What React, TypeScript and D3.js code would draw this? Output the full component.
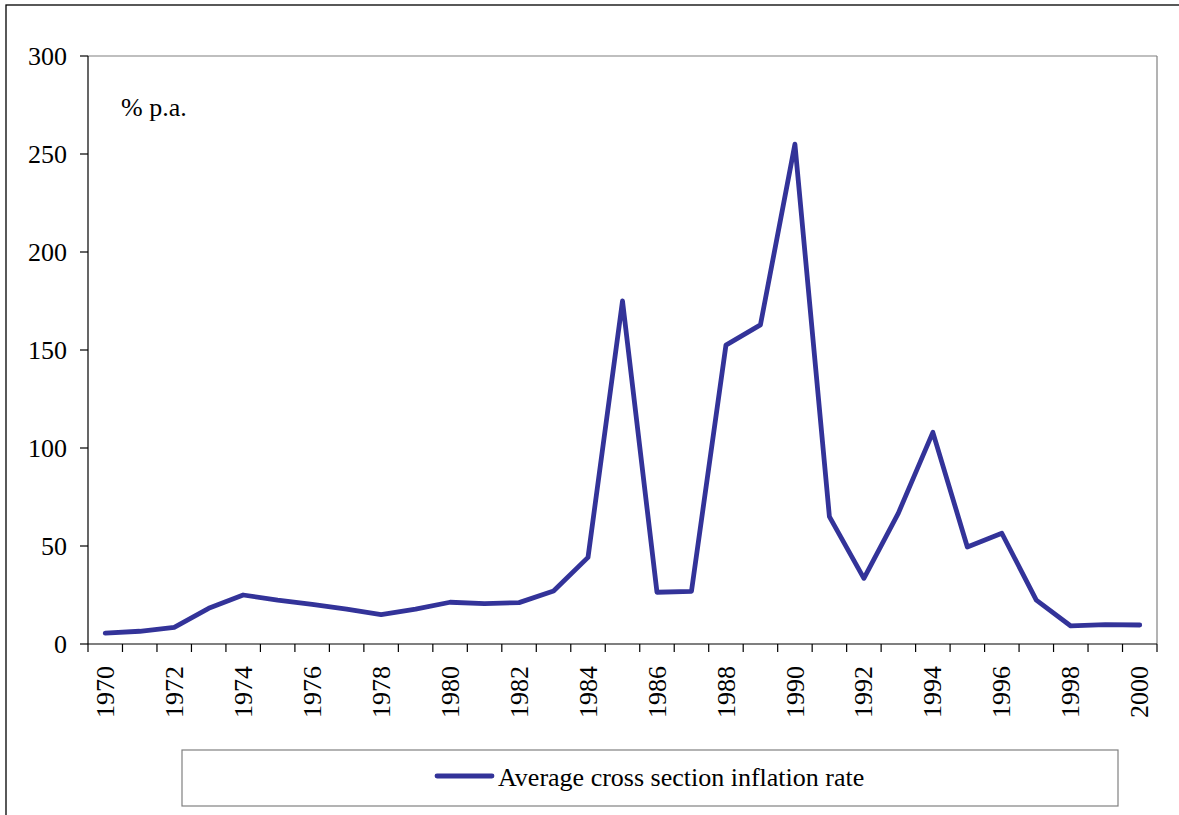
import React from "react";
import * as d3 from "d3";

// Average cross-section inflation rate, % per annum
const years: number[] = [
  1970, 1971, 1972, 1973, 1974, 1975, 1976, 1977, 1978, 1979,
  1980, 1981, 1982, 1983, 1984, 1985, 1986, 1987, 1988, 1989,
  1990, 1991, 1992, 1993, 1994, 1995, 1996, 1997, 1998, 1999, 2000,
];
const inflation: number[] = [
  5.5, 6.5, 8.5, 18.2, 25, 22.4, 20.2, 17.8, 15, 17.8,
  21.3, 20.6, 21.1, 27, 44.2, 175, 26.4, 26.9, 152.5, 162.8,
  255, 65, 33.5, 66.8, 108, 49.5, 56.5, 22.4, 9.2, 9.9, 9.7,
];
const yTicks: number[] = [0, 50, 100, 150, 200, 250, 300];
const xLabels: number[] = years.filter((y) => y % 2 === 0);
const seriesName = "Average cross section inflation rate";
const unitLabel = "% p.a.";

const W = 1179;
const H = 815;
const plot = { left: 88, right: 1157, top: 56, bottom: 644 };
const FONT = "'Liberation Serif', 'Times New Roman', serif";
const FS = 26;
const LINE_COLOR = "#333399";

export default function App() {
  const x = d3
    .scaleBand<number>()
    .domain(years)
    .range([plot.left, plot.right])
    .padding(0);
  const y = d3.scaleLinear().domain([0, 300]).range([plot.bottom, plot.top]);
  const cx = (yr: number) => (x(yr) ?? 0) + x.bandwidth() / 2;

  const line = d3
    .line<number>()
    .x((_, i) => cx(years[i]))
    .y((v) => y(v));

  const boundaries = years.map((yr) => x(yr) ?? 0).concat([plot.right]);

  return (
    <svg
      width={W}
      height={H}
      style={{ position: "absolute", left: 0, top: 0, display: "block", background: "#fff" }}
      fontFamily={FONT}
    >
      {/* outer chart frame */}
      <rect x={6} y={5} width={W + 20} height={H + 20} fill="#fff" stroke="#000" strokeWidth={1.3} />

      {/* plot area: grey top/right border */}
      <line x1={plot.left} y1={plot.top} x2={plot.right} y2={plot.top} stroke="#808080" strokeWidth={1.2} />
      <line x1={plot.right} y1={plot.top} x2={plot.right} y2={plot.bottom} stroke="#808080" strokeWidth={1.2} />

      {/* y axis */}
      <line x1={plot.left} y1={plot.top} x2={plot.left} y2={plot.bottom} stroke="#000" strokeWidth={1.2} />
      {yTicks.map((t) => (
        <g key={`y${t}`}>
          <line x1={plot.left - 8} x2={plot.left} y1={y(t)} y2={y(t)} stroke="#000" strokeWidth={1.2} />
          <text x={67} y={y(t)} dy="0.34em" textAnchor="end" fontSize={FS} fill="#000">
            {t}
          </text>
        </g>
      ))}

      {/* x axis */}
      <line x1={plot.left} y1={plot.bottom} x2={plot.right} y2={plot.bottom} stroke="#000" strokeWidth={1.2} />
      {boundaries.map((bx, i) => (
        <line key={`xt${i}`} x1={bx} x2={bx} y1={plot.bottom} y2={plot.bottom + 8} stroke="#000" strokeWidth={1.2} />
      ))}
      {xLabels.map((yr) => (
        <text
          key={`xl${yr}`}
          transform={`translate(${cx(yr)},${plot.bottom + 22}) rotate(-90)`}
          dy="0.33em"
          textAnchor="end"
          fontSize={FS}
          fill="#000"
        >
          {yr}
        </text>
      ))}

      {/* unit label */}
      <text x={121} y={116} fontSize={FS} fill="#000">
        {unitLabel}
      </text>

      {/* series */}
      <path
        d={line(inflation) ?? ""}
        fill="none"
        stroke={LINE_COLOR}
        strokeWidth={4.8}
        strokeLinejoin="round"
        strokeLinecap="round"
      />

      {/* legend */}
      <rect x={182} y={750} width={936} height={56} fill="#fff" stroke="#808080" strokeWidth={1.2} />
      <line x1={437} x2={492} y1={776} y2={776} stroke={LINE_COLOR} strokeWidth={4.8} strokeLinecap="round" />
      <text x={498} y={786} fontSize={FS} fill="#000">
        {seriesName}
      </text>
    </svg>
  );
}
